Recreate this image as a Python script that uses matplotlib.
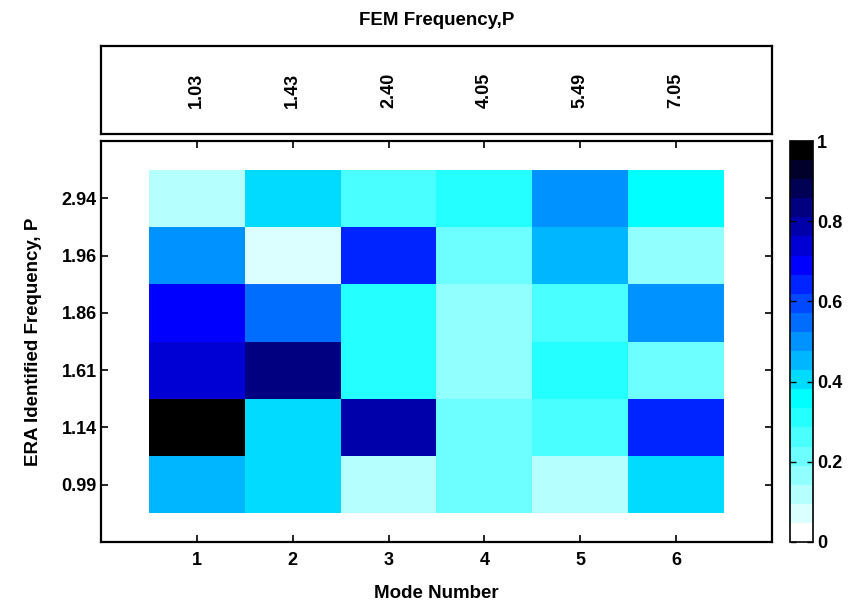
import numpy as np
import matplotlib
matplotlib.use("Agg")
import matplotlib.pyplot as plt
from matplotlib.colors import ListedColormap

plt.rcParams['font.family'] = ['Liberation Sans', 'DejaVu Sans']
plt.rcParams['font.weight'] = 'bold'

modes = [1, 2, 3, 4, 5, 6]
fem_freq = ["1.03", "1.43", "2.40", "4.05", "5.49", "7.05"]
era_freq = ["0.99", "1.14", "1.61", "1.86", "1.96", "2.94"]  # bottom to top

# values, rows bottom (0.99) to top (2.94)
row_099 = [0.45, 0.40, 0.12, 0.21, 0.12, 0.40]
row_114 = [1.00, 0.40, 0.79, 0.21, 0.26, 0.64]
row_161 = [0.74, 0.83, 0.31, 0.17, 0.31, 0.21]
row_186 = [0.69, 0.55, 0.31, 0.17, 0.26, 0.50]
row_196 = [0.50, 0.07, 0.64, 0.21, 0.45, 0.17]
row_294 = [0.12, 0.40, 0.26, 0.31, 0.50, 0.36]

cmap_hex = ["#ffffff", "#dbffff", "#b6ffff", "#92ffff", "#6dffff", "#49ffff", "#24ffff",
            "#00ffff", "#00dbff", "#00b6ff", "#0092ff", "#006dff", "#0049ff", "#0024ff",
            "#0000ff", "#0000d5", "#0000aa", "#000080", "#000055", "#00002a", "#000000"]

data = np.array([row_099, row_114, row_161, row_186, row_196, row_294])
cmap = ListedColormap(cmap_hex)

fig = plt.figure(figsize=(8.51, 6.02), dpi=100)
W, H = 851, 602

def rect(l, t, r, b):
    return [l / W, 1 - b / H, (r - l) / W, (b - t) / H]

FS_TICK = 13
FS_LAB = 13.5

ax = fig.add_axes(rect(101, 141, 772, 542))
x = np.arange(0.5, 7.0, 1.0)
y = np.arange(0.5, 7.0, 1.0)
mesh = ax.pcolormesh(x, y, data, cmap=cmap, vmin=0, vmax=1)
ax.set_xlim(0, 7)
ax.set_ylim(0, 7)
ax.set_xticks(modes)
ax.set_xticklabels([str(m) for m in modes])
ax.set_yticks(np.arange(1, 7))
ax.set_yticklabels(era_freq)
ax.tick_params(axis='both', direction='in', length=5, width=1.2, top=True, right=True,
               labelsize=FS_TICK)
ax.tick_params(axis='x', pad=7)
ax.tick_params(axis='y', pad=3)
for s in ax.spines.values():
    s.set_linewidth(1.6)
ax.set_xlabel("Mode Number", fontsize=FS_LAB, fontweight='bold', labelpad=12)
ax.set_ylabel("ERA Identified Frequency, P", fontsize=FS_LAB, fontweight='bold', labelpad=14)

axt = fig.add_axes(rect(101, 46, 772, 134))
axt.set_xlim(0, 7)
axt.set_ylim(0, 1)
axt.set_xticks([])
axt.set_yticks([])
for s in axt.spines.values():
    s.set_linewidth(1.6)
for m, f in zip(modes, fem_freq):
    axt.text(m, 0.5, f, rotation=90, ha='center', va='center', fontsize=FS_TICK, fontweight='bold')
axt.set_title("FEM Frequency,P", fontsize=FS_LAB, fontweight='bold', pad=15)

cax = fig.add_axes(rect(790, 141, 813, 542))
cb = fig.colorbar(mesh, cax=cax)
cb.set_ticks([0, 0.2, 0.4, 0.6, 0.8, 1])
cb.set_ticklabels(["0", "0.2", "0.4", "0.6", "0.8", "1"])
cax.tick_params(direction='in', length=4, width=1, labelsize=FS_TICK, left=True, right=True, pad=3)
cb.outline.set_linewidth(1.2)

fig.savefig("out.png", dpi=100)
